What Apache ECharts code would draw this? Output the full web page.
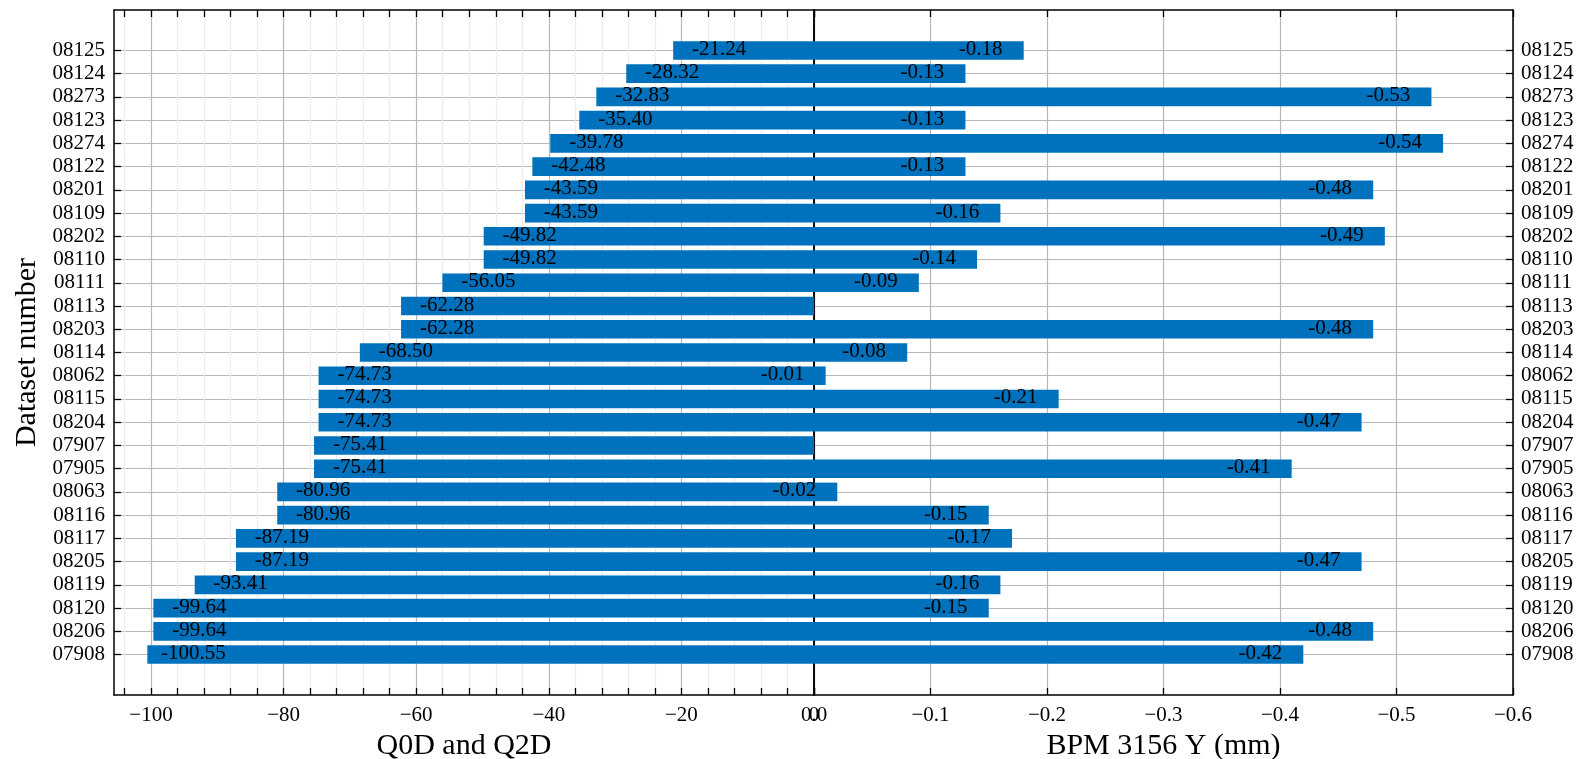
<!DOCTYPE html>
<html>
<head>
<meta charset="utf-8">
<script src="https://cdn.jsdelivr.net/npm/echarts@6/dist/echarts.min.js"></script>
<style>
  html, body { margin: 0; padding: 0; background: #fff; }
  #chart { width: 1580px; height: 759px; }
</style>
</head>
<body>
<div id="chart"></div>
<script>
// Dataset numbers, listed top to bottom
const datasets = ['08125', '08124', '08273', '08123', '08274', '08122', '08201', '08109', '08202',
  '08110', '08111', '08113', '08203', '08114', '08062', '08115', '08204', '07907', '07905',
  '08063', '08116', '08117', '08205', '08119', '08120', '08206', '07908'];

// Q0D and Q2D setting for each dataset
const quadValues = [-21.24, -28.32, -32.83, -35.40, -39.78, -42.48, -43.59, -43.59, -49.82,
  -49.82, -56.05, -62.28, -62.28, -68.50, -74.73, -74.73, -74.73, -75.41, -75.41,
  -80.96, -80.96, -87.19, -87.19, -93.41, -99.64, -99.64, -100.55];

// BPM 3156 vertical position (mm); null where no reading exists
const bpmValues = [-0.18, -0.13, -0.53, -0.13, -0.54, -0.13, -0.48, -0.16, -0.49,
  -0.14, -0.09, null, -0.48, -0.08, -0.01, -0.21, -0.47, null, -0.41,
  -0.02, -0.15, -0.17, -0.47, -0.16, -0.15, -0.48, -0.42];

// Tick positions
const quadMajorTicks = [-100, -80, -60, -40, -20, 0];
const quadMinorTicks = [-104, -100, -96, -92, -88, -84, -80, -76, -72, -68, -64, -60, -56, -52,
  -48, -44, -40, -36, -32, -28, -24, -20, -16, -12, -8, -4, 0];
const bpmTicks = [0, -0.1, -0.2, -0.3, -0.4, -0.5, -0.6];

const FONT = "'Liberation Serif', 'DejaVu Serif', serif";
const BLUE = '#0072BD';
const rowIdx = datasets.map((_, i) => i);
const yMin = -1.74, yMax = datasets.length - 1 + 1.74;

const minusFmt = v => (v < 0 ? '\u2212' : '') + Math.abs(v);

function barRenderer(labelShift, decimals) {
  return function (params, api) {
    const v = api.value(0), i = api.value(1);
    if (v == null || isNaN(v)) return null;
    const p0 = api.coord([0, i]);
    const p1 = api.coord([v, i]);
    const h = api.size([0, 0.8])[1];
    return {
      type: 'group',
      children: [
        {
          type: 'rect',
          shape: { x: Math.min(p0[0], p1[0]), y: p0[1] - h / 2, width: Math.abs(p1[0] - p0[0]), height: h },
          style: { fill: BLUE }
        },
        {
          type: 'text',
          z2: 10,
          style: {
            text: v.toFixed(decimals), x: p1[0] + labelShift, y: p1[1] - 1,
            align: 'center', verticalAlign: 'middle',
            font: '21px ' + FONT, fill: '#000'
          }
        }
      ]
    };
  };
}

const frameLine = { show: true, onZero: false, lineStyle: { color: '#000', width: 1.5 } };
const tickIn = { show: true, inside: true, length: 7, lineStyle: { color: '#000', width: 1.3 } };
const gridGray = '#b8b8b8';
const titleStyle = { color: '#000', fontFamily: FONT, fontSize: 30 };

const option = {
  backgroundColor: '#fff',
  animation: false,
  grid: [
    { left: 114, top: 10, width: 700, height: 685, outerBoundsMode: 'none' },
    { left: 814, top: 10, width: 699, height: 685, outerBoundsMode: 'none' }
  ],
  xAxis: [
    {
      gridIndex: 0, type: 'value', position: 'bottom', min: -105.58, max: 0,
      axisLine: frameLine,
      axisTick: Object.assign({}, tickIn, { customValues: quadMinorTicks }),
      axisLabel: { customValues: quadMajorTicks, formatter: minusFmt, color: '#000', fontFamily: FONT, fontSize: 21, margin: 10 },
      splitLine: { show: true, lineStyle: { color: ['#ececec', gridGray, '#ececec', '#ececec', '#ececec'], width: 1.2 } },
      name: 'Q0D and Q2D', nameLocation: 'middle', nameGap: 35,
      nameTextStyle: titleStyle
    },
    {
      gridIndex: 0, type: 'value', position: 'top', min: -105.58, max: 0,
      axisLine: frameLine,
      axisTick: Object.assign({}, tickIn, { customValues: quadMinorTicks }),
      axisLabel: { show: false }, splitLine: { show: false }
    },
    {
      gridIndex: 1, type: 'value', position: 'bottom', min: -0.6, max: 0, inverse: true,
      axisLine: frameLine,
      axisTick: Object.assign({}, tickIn, { customValues: bpmTicks }),
      axisLabel: {
        customValues: bpmTicks, color: '#000', fontFamily: FONT, fontSize: 21, margin: 10,
        formatter: v => (v < 0 ? '\u2212' : '') + Math.abs(v).toFixed(1)
      },
      splitLine: { show: true, lineStyle: { color: gridGray, width: 1.2 } },
      name: 'BPM 3156 Y (mm)', nameLocation: 'middle', nameGap: 35,
      nameTextStyle: titleStyle
    },
    {
      gridIndex: 1, type: 'value', position: 'top', min: -0.6, max: 0, inverse: true,
      axisLine: frameLine,
      axisTick: Object.assign({}, tickIn, { customValues: bpmTicks }),
      axisLabel: { show: false }, splitLine: { show: false }
    }
  ],
  yAxis: [
    {
      gridIndex: 0, type: 'value', position: 'left', inverse: true, min: yMin, max: yMax,
      axisLine: frameLine,
      axisTick: Object.assign({}, tickIn, { customValues: rowIdx }),
      axisLabel: { customValues: rowIdx, formatter: v => datasets[Math.round(v)], color: '#000', fontFamily: FONT, fontSize: 21, margin: 9 },
      splitLine: { show: true, lineStyle: { color: gridGray, width: 1.2 } },
      name: 'Dataset number', nameLocation: 'middle', nameGap: 72, nameRotate: 90,
      nameTextStyle: titleStyle
    },
    {
      gridIndex: 0, type: 'value', position: 'right', inverse: true, min: yMin, max: yMax,
      axisLine: frameLine, axisTick: { show: false }, axisLabel: { show: false }, splitLine: { show: false }
    },
    {
      gridIndex: 1, type: 'value', position: 'left', inverse: true, min: yMin, max: yMax,
      axisLine: frameLine, axisTick: { show: false, customValues: rowIdx }, axisLabel: { show: false },
      splitLine: { show: true, lineStyle: { color: gridGray, width: 1.2 } }
    },
    {
      gridIndex: 1, type: 'value', position: 'right', inverse: true, min: yMin, max: yMax,
      axisLine: frameLine,
      axisTick: Object.assign({}, tickIn, { customValues: rowIdx }),
      axisLabel: { customValues: rowIdx, formatter: v => datasets[Math.round(v)], color: '#000', fontFamily: FONT, fontSize: 21, margin: 8 },
      splitLine: { show: false }
    }
  ],
  series: [
    {
      type: 'custom', name: 'Q0D and Q2D', xAxisIndex: 0, yAxisIndex: 0, z: 2,
      renderItem: barRenderer(46, 2),
      encode: { x: 0, y: 1 },
      data: quadValues.map((v, i) => [v, i])
    },
    {
      type: 'custom', name: 'BPM 3156 Y', xAxisIndex: 2, yAxisIndex: 2, z: 3,
      renderItem: barRenderer(-43, 2),
      encode: { x: 0, y: 1 },
      data: bpmValues.map((v, i) => [v, i])
    }
  ]
};

const chart = echarts.init(document.getElementById('chart'), null, { renderer: 'canvas' });
chart.setOption(option);
</script>
</body>
</html>
